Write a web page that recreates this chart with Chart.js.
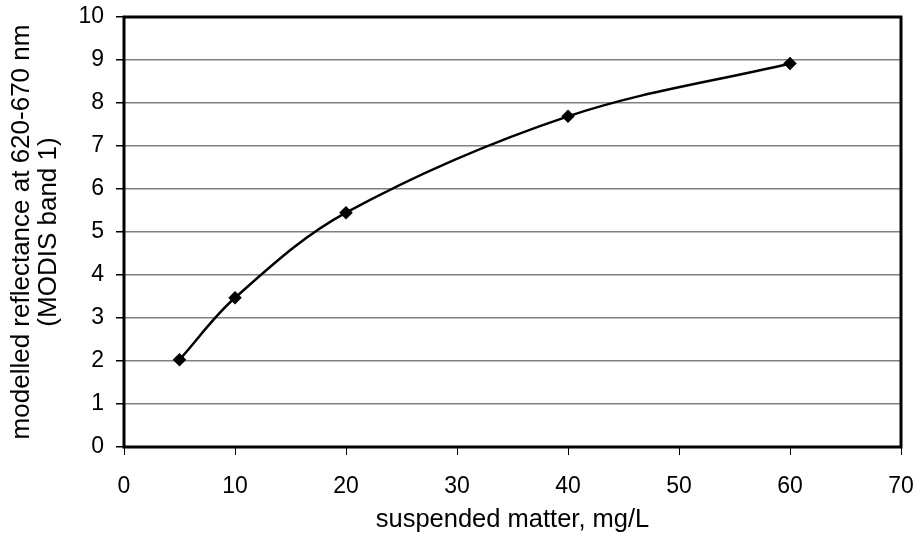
<!DOCTYPE html>
<html>
<head>
<meta charset="utf-8">
<script src="https://cdn.jsdelivr.net/npm/chart.js@4.4.1/dist/chart.umd.min.js"></script>
<style>
  html, body { margin: 0; padding: 0; background: #fff; }
  #wrap { width: 920px; height: 545px; }
</style>
</head>
<body>
<div id="wrap"><canvas id="chart"></canvas></div>
<script>
// data
const matter = [5, 10, 20, 40, 60];
const reflectance = [2.03, 3.47, 5.45, 7.69, 8.92];
const xTicks = [0, 10, 20, 30, 40, 50, 60, 70];
const yTicks = [0, 1, 2, 3, 4, 5, 6, 7, 8, 9, 10];

const tickFont = { family: "'Liberation Sans', Arial, sans-serif", size: 23 };
const xTitleFont = { family: "'Liberation Sans', Arial, sans-serif", size: 25.5, lineHeight: 1.1 };
const yTitleFont = { family: "'Liberation Sans', Arial, sans-serif", size: 26, lineHeight: 1.05 };

// black frame round the plot area
const frame = {
    id: 'frame',
    afterDatasetsDraw(chart) {
        const a = chart.chartArea;
        const ctx = chart.ctx;
        ctx.save();
        ctx.strokeStyle = '#000';
        ctx.lineWidth = 3;
        ctx.strokeRect(a.left, a.top, a.right - a.left, a.bottom - a.top);
        ctx.restore();
    }
};

// keep the plot area fixed: no extra room for overhanging labels
function noOverhang(s) {
    s.paddingTop = 0;
    s.paddingBottom = 0;
    s.paddingLeft = 0;
    s.paddingRight = 0;
}

new Chart(document.getElementById('chart'), {
    type: 'scatter',
    data: {
        datasets: [{
            data: matter.map((x, i) => ({ x: x, y: reflectance[i] })),
            showLine: true,
            tension: 0.35,
            borderColor: '#000',
            borderWidth: 2.5,
            pointStyle: 'rectRot',
            pointRadius: 5,
            pointBackgroundColor: '#000',
            pointBorderColor: '#000'
        }]
    },
    options: {
        responsive: true,
        maintainAspectRatio: false,
        animation: false,
        layout: { padding: { left: 8, right: 19, top: 17, bottom: 6 } },
        plugins: { legend: { display: false }, tooltip: { enabled: false } },
        scales: {
            x: {
                type: 'linear',
                min: 0, max: 70,
                afterBuildTicks: s => { s.ticks = xTicks.map(v => ({ value: v })); },
                afterFit: s => { s.height = 92; noOverhang(s); },
                grid: { drawOnChartArea: false, tickLength: 8, tickColor: '#000', lineWidth: 1 },
                border: { display: false },
                ticks: { color: '#000', font: tickFont, padding: 18, maxRotation: 0 },
                title: { display: true, text: 'suspended matter, mg/L', color: '#000', font: xTitleFont, padding: { top: 0, bottom: 5 } }
            },
            y: {
                min: 0, max: 10,
                afterBuildTicks: s => { s.ticks = yTicks.map(v => ({ value: v })); },
                afterFit: s => { s.width = 116; noOverhang(s); },
                grid: { color: '#808080', tickLength: 8, tickColor: '#000', lineWidth: 1.5 },
                border: { display: false },
                ticks: { color: '#000', font: tickFont, padding: 12 },
                title: { display: true, text: ['modelled reflectance at 620-670 nm', '(MODIS band 1)'], color: '#000', font: yTitleFont, padding: { top: 0, bottom: 0 } }
            }
        }
    },
    plugins: [frame]
});
</script>
</body>
</html>
